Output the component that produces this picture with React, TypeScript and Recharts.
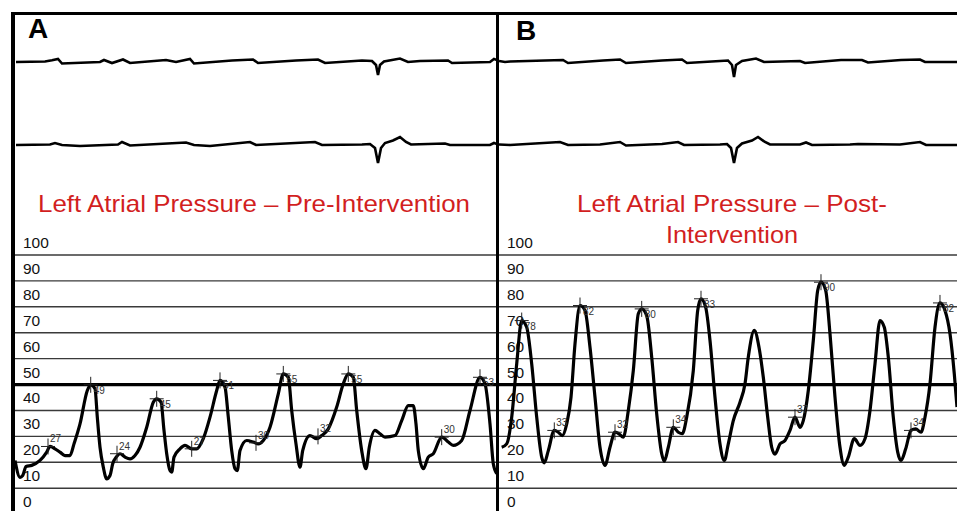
import { ComposedChart, LineChart, Line, Scatter, XAxis, YAxis, ReferenceLine } from "recharts";

const FONT = "'Liberation Sans', Arial, sans-serif";

// pressure grid (mmHg)
const pressureTicks = [0, 10, 20, 30, 40, 50, 60, 70, 80, 90, 100];

// Panel A: left atrial pressure before intervention (x = sample position along the strip)
const preTime = [
  15, 20, 22.7, 26, 31.7, 40, 46.7, 50, 55, 60,
  65, 70, 74, 80, 87.3, 90.7, 95, 97.3, 100, 103.3,
  106.7, 110, 112.7, 116.7, 120, 125, 130, 135, 140, 146.7,
  153.3, 156.7, 161, 164, 166.7, 170, 171.7, 174, 180, 185,
  191.7, 196.7, 203.3, 210, 216.7, 220, 225, 228.3, 231.7, 235,
  237.3, 240, 246.7, 253.3, 258.3, 263.3, 270, 278.3, 283.3, 288.3,
  291.7, 296, 300, 302.7, 310, 316.7, 321.7, 328.3, 336.7, 343.3,
  348.3, 353.3, 356.7, 361.7, 366, 369.3, 375, 380, 385, 395,
  401.7, 408.3, 413.3, 416, 418.3, 423.3, 428.3, 433.3, 441.7, 448.3,
  453.3, 461.7, 470, 480, 485, 490, 493.3, 496.7,
];
const prePressure = [
  20.7, 14.2, 14.9, 18.4, 18.8, 20.7, 23.9, 26.1, 25.2, 23.9,
  22.6, 22.6, 27.1, 34.8, 47.7, 49.9, 48.4, 37.4, 25.8, 18.1,
  13.6, 14.9, 19.4, 22.2, 23.3, 22, 21.3, 22.6, 25.8, 33.5,
  43.2, 44.5, 43.2, 32.3, 23.3, 16.8, 16.2, 22, 25.2, 26.5,
  25.2, 25.2, 29.1, 37.4, 47.7, 51.6, 49, 37.4, 24.5, 17.5,
  16.8, 24.5, 28.4, 27.8, 27.1, 28.4, 33.5, 46.4, 54.1, 52.8,
  40, 27.1, 18.1, 24.5, 30.3, 29.1, 30.3, 32.9, 41.3, 50.3,
  54.1, 52.8, 40, 24.5, 17.5, 25.8, 32.3, 31, 29.7, 30.3,
  36.1, 41.9, 41.9, 34.8, 24.5, 17.5, 22, 23.3, 29.7, 27.8,
  26.5, 28.4, 40, 52.8, 50.3, 34.8, 19.4, 15.6,
];
const preMarkTime = [48, 117, 191.7, 256, 318, 441.7, 90.7, 156.7, 220, 283.3, 348.3, 480];
const preMarkValue = [26.1, 23.3, 25.2, 27.5, 30, 29.7, 49.9, 44.5, 51.6, 54.1, 54.1, 52.8];
const preMarkLabel = ["27", "24", "27", "30", "32", "30", "49", "45", "51", "55", "55", "53"];

// Panel B: left atrial pressure after intervention
const postTime = [
  501.7, 506.7, 511.7, 516.7, 521.7, 526.7, 531.7, 536.7, 541.7, 544.3,
  548.3, 554.3, 558.3, 562.3, 566.7, 571, 575, 580, 585, 590,
  595, 600, 605, 610, 615, 619, 623.3, 628.3, 633.3, 638.3,
  641.7, 646.7, 651.7, 656.7, 661.7, 664.3, 668.3, 673.3, 678.3, 682.3,
  686.7, 693.3, 697.7, 701, 705.7, 710, 715, 720, 724.3, 728.3,
  733.3, 740, 745, 748.3, 754.3, 759, 763.3, 767.7, 771.7, 775,
  780, 785, 790, 795, 800, 803.3, 808.3, 813.3, 817.7, 821,
  825.7, 830, 835, 840, 844.3, 848.3, 854.3, 860, 865, 870,
  875, 880, 884.3, 888.3, 893.3, 897.7, 901, 905.7, 911, 915.7,
  921, 925, 930, 935, 940, 945, 950, 954.3, 957,
];
const postPressure = [
  25.8, 27.1, 37.4, 58, 74.7, 72.1, 58, 37.4, 22, 19.8,
  24.5, 32.3, 31.6, 30.3, 34.8, 45.1, 65.7, 80.5, 78.6, 64.4,
  45.1, 25.8, 18.8, 25.8, 31.6, 31, 29.7, 40, 55.4, 77.3,
  79.2, 76.6, 60.6, 38.7, 23.3, 20.4, 25.8, 33.5, 31.6, 31,
  37.4, 55.4, 78.6, 83.1, 79.8, 67, 45.1, 27.1, 20.7, 27.1,
  36.1, 43.2, 50.3, 60.6, 70.9, 64.4, 52.8, 37.4, 25.8, 23.1,
  27.1, 28.4, 32.3, 37.4, 33.5, 36.1, 47.7, 67, 86.3, 89.5,
  86.3, 69.6, 45.1, 25.8, 18.8, 22, 29.1, 26.5, 29.1, 40,
  58, 74.7, 72.1, 60.6, 37.4, 23.9, 20.7, 25.2, 32.3, 32.9,
  31.6, 37.4, 50.3, 72.1, 81.5, 78.6, 69.6, 54.1, 41.3,
];
const postMarkTime = [554.3, 615, 673.3, 795, 911, 521.7, 580, 641.7, 701, 821, 940];
const postMarkValue = [32.3, 31.6, 33.5, 37.4, 32.3, 74.7, 80.5, 79.2, 83.1, 89.5, 81.5];
const postMarkLabel = ["33", "32", "34", "37", "34", "78", "82", "80", "83", "90", "82"];

// ECG leads (deflection from baseline, positive = up)
const ecgATime = [16, 45, 52, 58, 62, 100, 104, 112, 123, 130, 166, 176, 190, 194, 232, 253, 258, 296, 318, 325, 362, 372, 376, 378, 380, 384, 400, 408, 420, 448, 452, 490, 494, 497];
const ecgATop = [0, 0.05, 0.17, 0.3, -0.15, 0, 0.2, -0.1, 0.25, -0.1, 0.2, 0, 0.3, -0.15, 0.15, 0.25, -0.1, 0.15, 0.25, -0.1, 0.15, 0.1, -0.3, -1.3, -0.3, 0.05, 0.35, 0, 0.1, 0.15, -0.1, 0, 0.3, 0.2];
const ecgABottomTime = [16, 50, 55, 62, 80, 118, 122, 130, 186, 194, 210, 250, 256, 315, 322, 362, 370, 375, 378, 381, 385, 393, 400, 406, 411, 445, 450, 490, 494, 497];
const ecgABottom = [0, 0.05, 0.2, 0, -0.1, 0.05, 0.3, -0.05, 0.25, 0, -0.1, 0.3, 0, 0.3, 0, 0.05, 0.1, -0.3, -1.8, -0.3, 0.2, 0.45, 0.8, 0.3, 0.05, 0.15, 0, 0, 0.2, 0.1];
const ecgBTime = [499, 505, 510, 545, 563, 568, 603, 620, 626, 662, 682, 687, 720, 728, 732, 734, 736, 742, 756, 764, 800, 805, 841, 862, 868, 901, 920, 925, 957];
const ecgBTop = [0.1, 0, 0.05, 0.15, 0.2, -0.1, 0.15, 0.25, -0.1, 0.15, 0.25, -0.1, 0.1, 0.15, -0.3, -1.5, -0.3, 0.1, 0.35, 0, 0.1, -0.1, 0.2, 0.2, -0.05, 0.2, 0.25, 0, 0];
const ecgBBottomTime = [499, 510, 560, 568, 600, 620, 626, 662, 678, 684, 720, 727, 731, 734, 737, 742, 752, 758, 765, 770, 800, 806, 812, 850, 858, 900, 920, 926, 957];
const ecgBBottom = [0.05, 0, 0.3, 0, 0.05, 0.3, -0.05, 0.1, 0.3, 0, 0.05, 0.1, -0.3, -1.8, -0.3, 0.15, 0.45, 0.8, 0.3, 0.05, 0.05, 0.25, 0, 0.05, 0.1, 0.05, 0.3, 0, 0];

const zip = (t: number[], v: number[]) => t.map((x, i) => ({ t: x, p: v[i] }));
const marks = (t: number[], v: number[], l: string[]) =>
  t.map((x, i) => ({ t: x, p: v[i], label: l[i], peak: i >= t.length - (t.length === 12 ? 6 : 6) }));

const PRESSURE_TOP = 254.5;
const PRESSURE_H = 259.1;
const PAD = 30;

function TickLabel({ viewBox, text }: any) {
  return (
    <text x={viewBox.x + 8} y={viewBox.y - 7} fontSize={15.5} fontFamily={FONT} fill="#111">
      {text}
    </text>
  );
}

function Cross({ cx, cy, payload }: any) {
  const peak = payload.peak;
  return (
    <g>
      <line x1={cx - 7} x2={cx + 7} y1={cy} y2={cy} stroke="#222" strokeWidth={1} />
      <line x1={cx} x2={cx} y1={cy - 8} y2={cy + 8} stroke="#222" strokeWidth={1} />
      <text x={cx + (peak ? 3 : 2)} y={peak ? cy + 9 : cy - 4} fontSize={10} fontFamily={FONT} fill="#333">
        {payload.label}
      </text>
    </g>
  );
}

function PressurePanel({ left, right, data, markers }: any) {
  const w = right - left;
  return (
    <div style={{ position: "absolute", left, top: PRESSURE_TOP - PAD, width: w, height: PRESSURE_H + PAD }}>
      <ComposedChart width={w} height={PRESSURE_H + PAD} margin={{ top: PAD, right: 0, bottom: 0, left: 0 }}>
        <XAxis type="number" dataKey="t" domain={[left, right]} hide allowDataOverflow />
        <YAxis type="number" domain={[0, 100]} hide allowDataOverflow />
        {pressureTicks.map((v) => (
          <ReferenceLine
            key={v}
            y={v}
            stroke={v === 50 ? "#000" : "#3a3a3a"}
            strokeWidth={v === 50 ? 3.3 : 1.4}
            label={<TickLabel text={String(v)} />}
          />
        ))}
        <Scatter data={markers} dataKey="p" shape={<Cross />} isAnimationActive={false} />
        <Line data={data} dataKey="p" type="monotone" stroke="#000" strokeWidth={3.2} dot={false} isAnimationActive={false} />
      </ComposedChart>
    </div>
  );
}

function EcgTrace({ left, right, baseline, data }: any) {
  const w = right - left;
  return (
    <div style={{ position: "absolute", left, top: baseline - 25, width: w, height: 50 }}>
      <LineChart width={w} height={50} data={data} margin={{ top: 0, right: 0, bottom: 0, left: 0 }}>
        <XAxis type="number" dataKey="t" domain={[left, right]} hide allowDataOverflow />
        <YAxis type="number" domain={[-2.5, 2.5]} hide />
        <Line dataKey="p" type="linear" stroke="#000" strokeWidth={2.6} dot={false} isAnimationActive={false} />
      </LineChart>
    </div>
  );
}

export default function App() {
  const titleStyle = { fontSize: 24, fontFamily: FONT, fill: "#d21f1f" };
  return (
    <div style={{ position: "fixed", left: 0, top: 0, width: 957, height: 511, overflow: "hidden", background: "#fff" }}>
      <svg width={957} height={511} style={{ position: "absolute", left: 0, top: 0 }}>
        <text x={28} y={38} fontSize={28} fontWeight="bold" fontFamily={FONT}>A</text>
        <text x={516} y={40} fontSize={28} fontWeight="bold" fontFamily={FONT}>B</text>
        <text x={254} y={212} textAnchor="middle" textLength={432} lengthAdjust="spacingAndGlyphs" {...titleStyle}>
          Left Atrial Pressure – Pre-Intervention
        </text>
        <text x={732} y={212} textAnchor="middle" textLength={310} lengthAdjust="spacingAndGlyphs" {...titleStyle}>
          Left Atrial Pressure – Post-
        </text>
        <text x={732} y={243} textAnchor="middle" textLength={132} lengthAdjust="spacingAndGlyphs" {...titleStyle}>
          Intervention
        </text>
      </svg>

      <EcgTrace left={15} right={497} baseline={62} data={zip(ecgATime, ecgATop)} />
      <EcgTrace left={15} right={497} baseline={145} data={zip(ecgABottomTime, ecgABottom)} />
      <EcgTrace left={499} right={957} baseline={62} data={zip(ecgBTime, ecgBTop)} />
      <EcgTrace left={499} right={957} baseline={145} data={zip(ecgBBottomTime, ecgBBottom)} />

      <PressurePanel left={15} right={497} data={zip(preTime, prePressure)} markers={marks(preMarkTime, preMarkValue, preMarkLabel)} />
      <PressurePanel left={499} right={957} data={zip(postTime, postPressure)} markers={marks(postMarkTime, postMarkValue, postMarkLabel)} />

      {/* frame */}
      <div style={{ position: "absolute", left: 11, top: 12, width: 946, height: 3, background: "#000" }} />
      <div style={{ position: "absolute", left: 11, top: 12, width: 4, height: 499, background: "#000" }} />
      <div style={{ position: "absolute", left: 495.5, top: 12, width: 3.5, height: 499, background: "#000" }} />
    </div>
  );
}
